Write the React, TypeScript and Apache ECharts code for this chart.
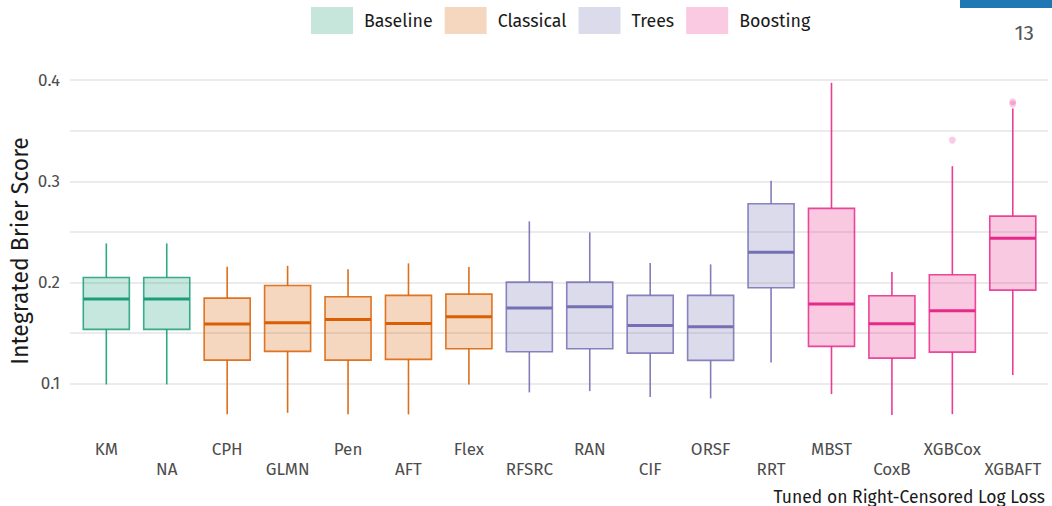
import React, { useEffect, useRef } from "react";
import * as echarts from "echarts";

const categories = ["KM", "NA", "CPH", "GLMN", "Pen", "AFT", "Flex", "RFSRC", "RAN", "CIF", "ORSF", "RRT", "MBST", "CoxB", "XGBCox", "XGBAFT"];
const groupNames = ["Baseline", "Classical", "Trees", "Boosting"];
// group index of each category
const categoryGroup = [0, 0, 1, 1, 1, 1, 1, 2, 2, 2, 2, 2, 3, 3, 3, 3];
// [min, Q1, median, Q3, max] per category
const boxValues: number[][] = [
  [0.0994, 0.1538, 0.1837, 0.2050, 0.2387],
  [0.0994, 0.1538, 0.1837, 0.2050, 0.2387],
  [0.0698, 0.1234, 0.1590, 0.1847, 0.2156],
  [0.0713, 0.1320, 0.1603, 0.1972, 0.2166],
  [0.0698, 0.1234, 0.1636, 0.1860, 0.2133],
  [0.0698, 0.1241, 0.1597, 0.1874, 0.2190],
  [0.0994, 0.1346, 0.1662, 0.1886, 0.2153],
  [0.0915, 0.1316, 0.1748, 0.2005, 0.2605],
  [0.0928, 0.1346, 0.1761, 0.2005, 0.2496],
  [0.0869, 0.1303, 0.1577, 0.1874, 0.2193],
  [0.0856, 0.1231, 0.1563, 0.1874, 0.2180],
  [0.1211, 0.1949, 0.2301, 0.2779, 0.3006],
  [0.0898, 0.1370, 0.1788, 0.2733, 0.3974],
  [0.0691, 0.1254, 0.1593, 0.1870, 0.2104],
  [0.0700, 0.1313, 0.1721, 0.2077, 0.3150],
  [0.1086, 0.1926, 0.2437, 0.2657, 0.3721],
];
// outliers: [category index, value]
const outliers: number[][] = [
  [14, 0.3408],
  [15, 0.3787],
  [15, 0.3765],
];
const yTickLabels = [0.1, 0.2, 0.3, 0.4];

const strokeColors = ["#1b9e77", "#d95f02", "#7570b3", "#e7298a"];
const fillColors = ["rgba(27,158,119,0.25)", "rgba(217,95,2,0.25)", "rgba(117,112,179,0.25)", "rgba(231,41,138,0.25)"];
const legendColors = ["#c6e6dc", "#f5d7c0", "#dcdbec", "#f9cae2"];

const FONT = "'Fira Sans', 'Open Sans', 'Noto Sans', sans-serif";

export default function App() {
  const ref = useRef<HTMLDivElement>(null);
  useEffect(() => {
    if (!ref.current) return;
    const chart = echarts.init(ref.current, null, { renderer: "svg" });

    const series: any[] = groupNames.map((name, g) => {
      const data: number[][] = [];
      boxValues.forEach((b, i) => {
        if (categoryGroup[i] === g) data.push([i, ...b]);
      });
      return {
        name,
        type: "custom",
        xAxisIndex: 1,
        yAxisIndex: 1,
        itemStyle: { color: legendColors[g] },
        encode: { x: 0, y: [1, 2, 3, 4, 5] },
        data,
        z: 3,
        renderItem: (params: any, api: any) => {
          const x = api.value(0);
          const vMin = api.value(1), q1 = api.value(2), med = api.value(3), q3 = api.value(4), vMax = api.value(5);
          const pMin = api.coord([x, vMin]);
          const pQ1 = api.coord([x, q1]);
          const pMed = api.coord([x, med]);
          const pQ3 = api.coord([x, q3]);
          const pMax = api.coord([x, vMax]);
          const band = api.size([1, 0])[0];
          const w = band * 0.762;
          const cx = pMed[0];
          const stroke = strokeColors[g];
          return {
            type: "group",
            children: [
              { type: "line", shape: { x1: cx, y1: pQ1[1], x2: cx, y2: pMin[1] }, style: { stroke, lineWidth: 1.6, opacity: 0.9 } },
              { type: "line", shape: { x1: cx, y1: pQ3[1], x2: cx, y2: pMax[1] }, style: { stroke, lineWidth: 1.6, opacity: 0.9 } },
              { type: "rect", shape: { x: cx - w / 2, y: pQ3[1], width: w, height: pQ1[1] - pQ3[1] }, style: { fill: fillColors[g], stroke, lineWidth: 1.6, strokeOpacity: 0.85 } },
              { type: "line", shape: { x1: cx - w / 2, y1: pMed[1], x2: cx + w / 2, y2: pMed[1] }, style: { stroke, lineWidth: 3 } },
            ],
          };
        },
      };
    });

    series.push({
      name: "outliers",
      type: "scatter",
      xAxisIndex: 1,
      yAxisIndex: 1,
      symbol: "circle",
      symbolSize: 7,
      itemStyle: { color: "rgba(231,41,138,0.3)" },
      data: outliers,
      z: 4,
    });

    chart.setOption({
      animation: false,
      textStyle: { fontFamily: FONT },
      legend: {
        data: groupNames.map((n, g) => ({ name: n, itemStyle: { color: legendColors[g], borderWidth: 0 } })),
        left: 311,
        top: 7,
        padding: 0,
        icon: "rect",
        itemWidth: 42,
        itemHeight: 27,
        itemGap: 12,
        selectedMode: false,
        textStyle: { fontSize: 17.8, color: "#1a1a1a", fontFamily: FONT, padding: [0, 0, 0, 6] },
      },
      grid: [
        { left: 70, width: 978, top: 65, height: 369.4, containLabel: false },
        { left: 76.1, width: 966.9, top: 65, height: 369.4, containLabel: false },
      ],
      xAxis: [
        { type: "value", gridIndex: 0, min: 0, max: 1, show: false },
        {
          type: "category",
          gridIndex: 1,
          data: categories,
          axisLine: { show: false },
          axisTick: { show: false },
          splitLine: { show: false },
          axisLabel: {
            interval: 0,
            margin: 4.5,
            fontSize: 17,
            lineHeight: 20.5,
            color: "#4d4d4d",
            fontFamily: FONT,
            formatter: (v: string, i: number) => (i % 2 === 1 ? "\n" + v : v),
          },
        },
      ],
      yAxis: [
        {
          type: "value",
          gridIndex: 0,
          min: 0.05,
          max: 0.415,
          interval: 0.05,
          axisLine: { show: false },
          axisTick: { show: false },
          axisLabel: {
            margin: 10,
            fontSize: 17,
            color: "#4d4d4d",
            fontFamily: FONT,
            showMinLabel: false,
            showMaxLabel: false,
            formatter: (v: number) => {
              const t = yTickLabels.find((m) => Math.abs(m - v) < 1e-6);
              return t !== undefined ? t.toFixed(1) : "";
            },
          },
          splitLine: {
            show: true,
            showMinLine: false,
            showMaxLine: false,
            lineStyle: { color: "#e4e4e4", width: 1.7 },
          },
        },
        { type: "value", gridIndex: 1, min: 0.05, max: 0.415, show: false, splitLine: { show: false } },
      ],
      graphic: [
        { type: "rect", shape: { x: 960, y: 0, width: 92, height: 8 }, style: { fill: "#1f78b4" } },
        { type: "text", x: 1034, y: 33, style: { text: "13", fontSize: 21, fill: "#555555", fontFamily: FONT, align: "right", verticalAlign: "middle" } },
        { type: "text", x: 20, y: 251, rotation: Math.PI / 2, style: { text: "Integrated Brier Score", fontSize: 23, fill: "#1a1a1a", fontFamily: FONT, align: "center", verticalAlign: "middle" } },
        { type: "text", x: 1045, y: 497, style: { text: "Tuned on Right-Censored Log Loss", fontSize: 17.5, fill: "#1a1a1a", fontFamily: FONT, align: "right", verticalAlign: "middle" } },
      ],
      series,
    });
    return () => chart.dispose();
  }, []);
  return <div ref={ref} style={{ position: "fixed", left: 0, top: 0, width: 1052, height: 506, background: "#ffffff" }} />;
}
